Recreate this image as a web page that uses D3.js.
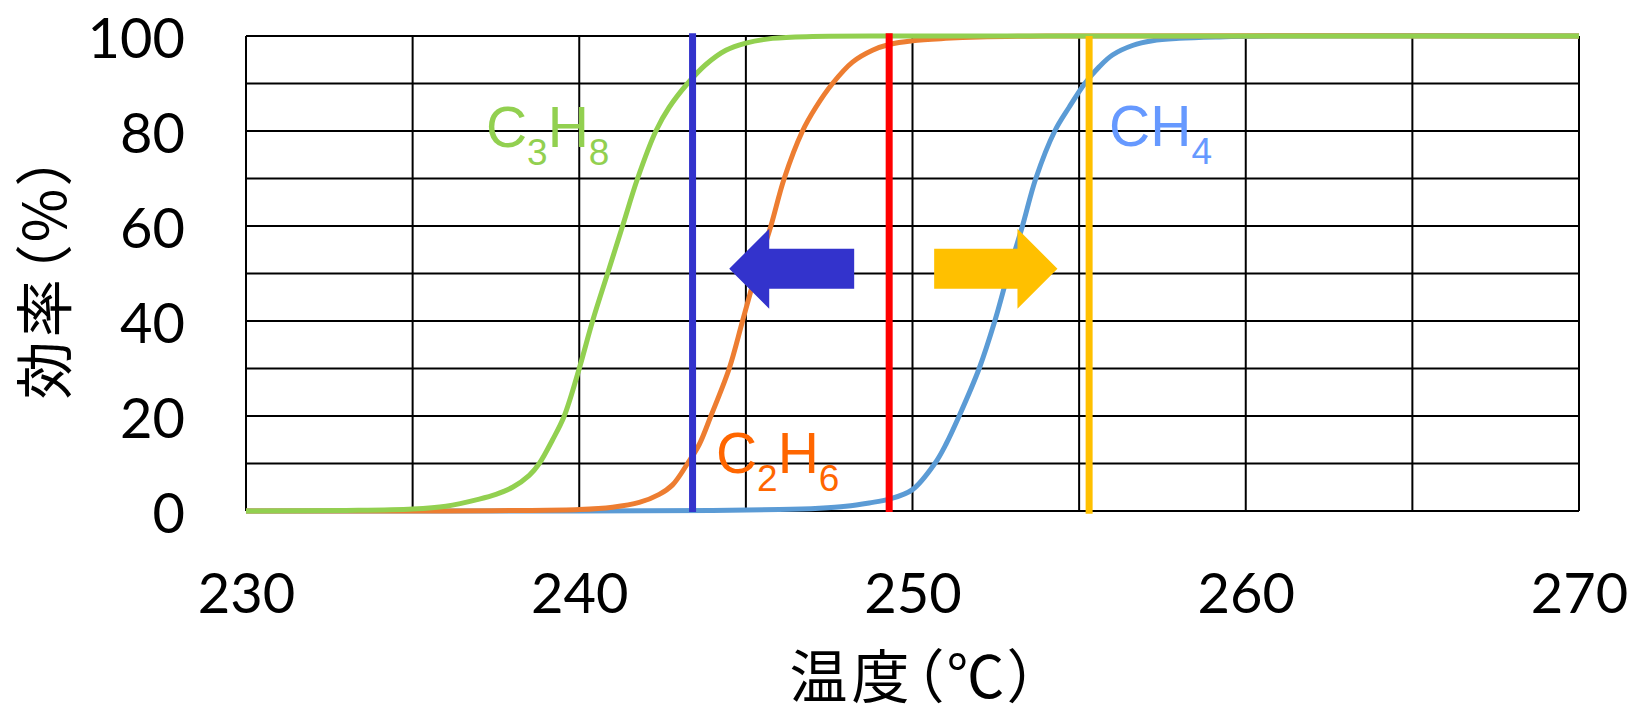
<!DOCTYPE html>
<html>
<head>
<meta charset="utf-8">
<script src="https://cdn.jsdelivr.net/npm/d3@7"></script>
<style>
  html, body { margin: 0; padding: 0; background: #fff; }
  svg { display: block; }
  .cjk { font-feature-settings: "palt" 1; }
</style>
</head>
<body>
<svg id="chart" width="1630" height="706"></svg>
<script>
// ---- data ----
const xTicks = [230, 240, 250, 260, 270];
const xGrid = [230, 235, 240, 245, 250, 255, 260, 265, 270];
const yTicks = [0, 20, 40, 60, 80, 100];
const yGrid = [0, 10, 20, 30, 40, 50, 60, 70, 80, 90, 100];

const ch4Temp = [230, 240, 244, 246, 247.2, 248, 248.7, 249.3, 250, 250.67, 251, 251.4, 252, 252.47, 252.87, 253.3, 253.7, 254.27, 254.7, 255.17, 255.6, 256, 256.6, 257.2, 258, 259.2, 261, 270];
const ch4Eff  = [0, 0, 0.1, 0.3, 0.6, 1, 1.7, 2.5, 4.5, 10, 14, 20, 30, 40, 50, 60, 70, 80, 85, 90, 93.5, 96, 98, 99, 99.5, 99.8, 100, 100];

const c2h6Temp = [230, 236, 238, 240, 241, 241.8, 242.4, 242.8, 243.25, 243.6, 243.95, 244.5, 244.9, 245.3, 245.75, 246.15, 246.7, 247.1, 247.6, 248.2, 248.8, 249.3, 250, 251, 252, 254, 270];
const c2h6Eff  = [0, 0, 0.1, 0.3, 0.8, 1.8, 3.5, 5.5, 10, 14, 20, 30, 40, 50, 60, 70, 80, 85, 90, 94.5, 97, 98.2, 99, 99.5, 99.8, 100, 100];

const c3h8Temp = [230, 233, 235, 236, 237, 237.5, 238, 238.5, 238.8, 239.2, 239.55, 240, 240.4, 240.85, 241.3, 241.75, 242.3, 242.7, 243.25, 243.8, 244.4, 245, 245.8, 247, 250, 270];
const c3h8Eff  = [0, 0.1, 0.4, 1, 2.5, 3.5, 5, 7.5, 10, 15, 20, 30, 40, 50, 60, 70, 80, 85, 90, 94, 97, 98.5, 99.5, 99.9, 100, 100];

const markerTemps  = [243.4, 249.3, 255.3];
const markerColors = ["#3333CC", "#FF0000", "#FFC000"];

const arrowStart = [248.25, 250.65];
const arrowEnd   = [244.5, 254.35];
const arrowLevel = [51, 51];
const arrowColors = ["#3333CC", "#FFC000"];

const labelParts = [
  [["C", false], ["3", true], ["H", false], ["8", true]],
  [["C", false], ["2", true], ["H", false], ["6", true]],
  [["C", false], ["H", false], ["4", true]]
];
const labelTemp  = [237.2, 244.1, 255.9];
const labelLevel = [76.6, 8.0, 76.8];
const labelColors = ["#92D050", "#FF6600", "#6699FF"];

const xTitle = "温度（℃）";
const yTitle = "効率（%）";

// ---- drawing ----
const svg = d3.select("#chart");
const pLeft = 246, pRight = 1579, pTop = 36, pBottom = 511;
const x = d3.scaleLinear().domain([230, 270]).range([pLeft, pRight]);
const y = d3.scaleLinear().domain([0, 100]).range([pBottom, pTop]);

const g = svg.append("g");

// grid
g.selectAll("line.vg").data(xGrid).join("line")
  .attr("class", "vg")
  .attr("x1", d => x(d)).attr("x2", d => x(d))
  .attr("y1", y(0)).attr("y2", y(100))
  .attr("stroke", "#000").attr("stroke-width", 2);
g.selectAll("line.hg").data(yGrid).join("line")
  .attr("class", "hg")
  .attr("x1", x(230)).attr("x2", x(270))
  .attr("y1", d => y(d)).attr("y2", d => y(d))
  .attr("stroke", "#000").attr("stroke-width", 2);

// axes via d3 axis generators (labels only)
const xAxis = d3.axisBottom(x).tickValues(xTicks).tickSize(0).tickPadding(0).tickFormat(d3.format("d"));
const yAxis = d3.axisLeft(y).tickValues(yTicks).tickSize(0).tickPadding(0).tickFormat(d3.format("d"));

const gx = svg.append("g").attr("transform", `translate(0,${pBottom})`).call(xAxis);
gx.select(".domain").remove();
gx.selectAll("text")
  .attr("font-family", "Lato, 'Open Sans', sans-serif")
  .attr("font-size", 56).attr("fill", "#000")
  .attr("dy", null).attr("y", 102);

const gy = svg.append("g").attr("transform", `translate(${pLeft},0)`).call(yAxis);
gy.select(".domain").remove();
gy.selectAll("text")
  .attr("font-family", "Lato, 'Open Sans', sans-serif")
  .attr("font-size", 56).attr("fill", "#000")
  .attr("dy", null).attr("x", -61).attr("y", 21);

// curves
const line = d3.line().x(d => x(d[0])).y(d => y(d[1])).curve(d3.curveCatmullRom.alpha(0.5));
const series = [
  { t: ch4Temp, v: ch4Eff, color: "#5B9BD5" },
  { t: c2h6Temp, v: c2h6Eff, color: "#ED7D31" },
  { t: c3h8Temp, v: c3h8Eff, color: "#92D050" }
];
series.forEach(s => {
  g.append("path")
    .datum(s.t.map((t, i) => [t, s.v[i]]))
    .attr("d", line)
    .attr("fill", "none")
    .attr("stroke", s.color)
    .attr("stroke-width", 5)
    .attr("stroke-linejoin", "round");
});

// vertical marker lines
g.selectAll("line.mk").data(markerTemps).join("line")
  .attr("class", "mk")
  .attr("x1", d => x(d)).attr("x2", d => x(d))
  .attr("y1", (d, i) => i === 2 ? y(100) : y(100.6))
  .attr("y2", (d, i) => i === 2 ? y(-0.6) : y(-0.2))
  .attr("stroke", (d, i) => markerColors[i])
  .attr("stroke-width", 7);

// arrows
const headLen = 40, headHalf = 40, shaftHalf = 20;
arrowStart.forEach((s, i) => {
  const x0 = x(s), x1 = x(arrowEnd[i]), yc = y(arrowLevel[i]);
  const dir = Math.sign(x1 - x0);
  const xb = x1 - dir * headLen;
  const pts = [
    [x0, yc - shaftHalf], [xb, yc - shaftHalf], [xb, yc - headHalf],
    [x1, yc], [xb, yc + headHalf], [xb, yc + shaftHalf], [x0, yc + shaftHalf]
  ];
  svg.append("path")
    .attr("d", "M" + pts.map(p => p.join(",")).join("L") + "Z")
    .attr("fill", arrowColors[i]);
});

// series labels with subscripts
labelParts.forEach((parts, i) => {
  const t = svg.append("text")
    .attr("x", x(labelTemp[i])).attr("y", y(labelLevel[i]))
    .attr("font-family", "'Liberation Sans', Arial, sans-serif")
    .attr("fill", labelColors[i]);
  let sub = false;
  parts.forEach(([txt, isSub]) => {
    const ts = t.append("tspan").text(txt)
      .attr("font-size", isSub ? 37 : 57);
    if (isSub !== sub) ts.attr("dy", isSub ? 18 : -18);
    sub = isSub;
  });
});

// axis titles
svg.append("text")
  .attr("class", "cjk")
  .attr("x", (pLeft + pRight) / 2 + 3).attr("y", 698)
  .attr("text-anchor", "middle")
  .attr("letter-spacing", 4)
  .attr("font-family", "'Noto Sans CJK JP', sans-serif")
  .attr("font-size", 58).attr("fill", "#000")
  .text(xTitle);

svg.append("text")
  .attr("class", "cjk")
  .attr("transform", `translate(66,${(pTop + pBottom) / 2 + 2}) rotate(-90)`)
  .attr("text-anchor", "middle")
  .attr("letter-spacing", 4)
  .attr("font-family", "'Noto Sans CJK JP', sans-serif")
  .attr("font-size", 58).attr("fill", "#000")
  .text(yTitle);
</script>
</body>
</html>
